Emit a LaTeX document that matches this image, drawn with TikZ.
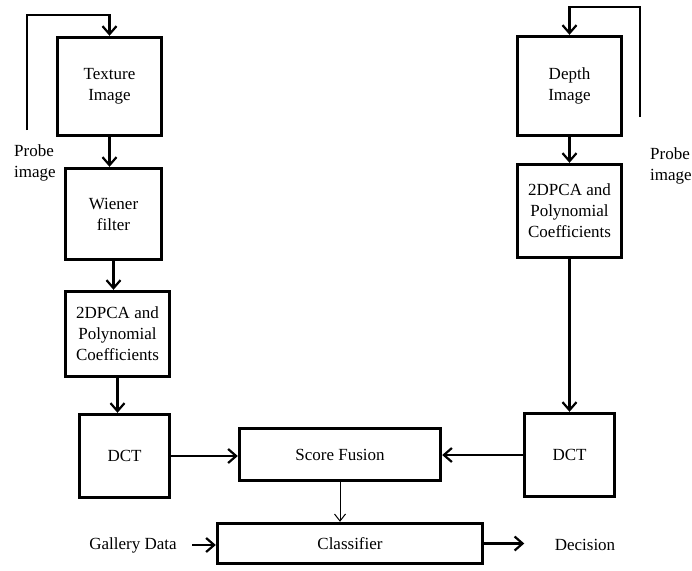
\documentclass[tikz,border=0pt]{standalone}
\usepackage{fontspec}
\setmainfont{Liberation Serif}
\usepackage{tikz}
\usetikzlibrary{arrows.meta, positioning, calc}

\begin{document}
\begin{tikzpicture}[
    x=1pt, y=-1pt,
    every node/.style={font=\rmfamily\fontsize{17}{21}\selectfont},
    block/.style={rectangle, draw=black, line width=3.4pt, align=center, inner sep=2pt},
    flow/.style={draw=black, line width=2.2pt, -{Straight Barb[length=8pt,width=14pt]}},
    thin-flow/.style={draw=black, line width=1pt, -{Straight Barb[length=7pt,width=11pt]}},
    side-text/.style={align=left, inner sep=0pt}
]

    \useasboundingbox (0,0) rectangle (692,570);

    % texture branch
    \node[block, minimum width=104pt, minimum height=98pt] (tex) at (109.5, 86.5) {Texture\\Image};
    \node[block, minimum width=96pt, minimum height=91pt] (wien) at (113.5, 214) {Wiener\\filter};
    \node[block, minimum width=104pt, minimum height=85pt] (pcaL) at (117.5, 334) {2DPCA and\\Polynomial\\Coefficients};
    \node[block, minimum width=90pt, minimum height=83pt] (dctL) at (124.5, 456) {DCT};

    % depth branch
    \node[block, minimum width=104pt, minimum height=99pt] (dep) at (569.5, 86) {Depth\\Image};
    \node[block, minimum width=104pt, minimum height=93pt] (pcaR) at (569.5, 211) {2DPCA and\\Polynomial\\Coefficients};
    \node[block, minimum width=90pt, minimum height=83pt] (dctR) at (569.5, 455) {DCT};

    % fusion and decision
    \node[block, minimum width=201pt, minimum height=52pt] (sf) at (340, 454.5) {Score Fusion};
    \node[block, minimum width=265pt, minimum height=40pt] (cls) at (350, 543.5) {Classifier};

    \node (gal) at (133, 545) {Gallery Data};
    \node (dec) at (585, 545) {Decision};

    \node[side-text, anchor=west] (probeLtxt) at (14, 163) {Probe\\image};
    \node[side-text, anchor=west] (probeRtxt) at (650, 166) {Probe\\image};

    \coordinate (probeL) at (27, 130);
    \coordinate (probeR) at (640, 117);

    \draw[flow] (probeL) |- ($(tex.north)+(0,-21)$) -- (tex.north);
    \draw[flow] (probeR) |- ($(dep.north)+(0,-28)$) -- (dep.north);

    \draw[flow] (tex.south) -- (tex.south |- wien.north);
    \draw[flow] (wien.south) -- (wien.south |- pcaL.north);
    \draw[flow] (pcaL.south) -- (pcaL.south |- dctL.north);

    \draw[flow] (dep.south) -- (dep.south |- pcaR.north);
    \draw[flow] (pcaR.south) -- (dctR.north);

    \draw[flow] (dctL.east) -- (dctL.east -| sf.west);
    \draw[flow] (dctR.west) -- (dctR.west -| sf.east);
    \draw[thin-flow] (sf.south) -- (sf.south |- cls.north);

    \draw[flow, shorten <=12pt] (gal.east) -- (gal.east -| cls.west);
    \draw[flow, shorten >=27pt] (cls.east) -- (cls.east -| dec.west);

\end{tikzpicture}
\end{document}
